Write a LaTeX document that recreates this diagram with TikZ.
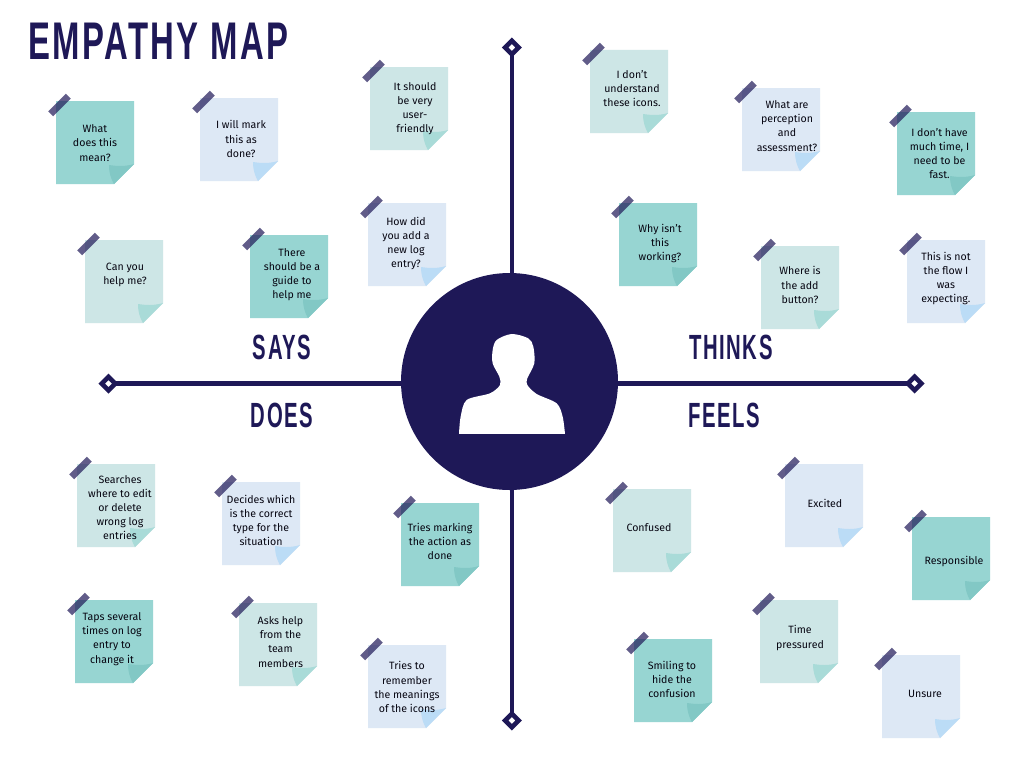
\documentclass[tikz,border=0pt]{standalone}
\usepackage{fontspec}
\setmainfont{Fira Sans}
\newfontfamily\headfont[FakeStretch=0.58,LetterSpace=4.5]{Liberation Sans Bold}
\newfontfamily\titlefont[FakeStretch=0.62,LetterSpace=4.7]{Liberation Sans Bold}
\usetikzlibrary{shapes.geometric}
\definecolor{navy}{HTML}{1E1857}
\definecolor{deepnote}{HTML}{97D5D2}
\definecolor{deepfold}{HTML}{82C8C5}
\definecolor{palenote}{HTML}{CDE6E6}
\definecolor{palefold}{HTML}{A9DBD8}
\definecolor{bluenote}{HTML}{DDE8F5}
\definecolor{bluefold}{HTML}{BBDCF6}
\tikzset{
  x=1pt,y=-1pt,
  notetext/.style={font=\fontsize{10.6}{14.1}\selectfont,text=black!80!navy,align=center,inner sep=0pt},
  tape/.style={fill=navy,fill opacity=0.7,draw=none,rectangle,minimum width=25pt,minimum height=7pt,inner sep=0pt,rotate=45},
  axisline/.style={draw=navy,line width=4.6pt,shorten >=-3pt,shorten <=-3pt},
  axisend/.style={diamond,draw=navy,fill=white,line width=4.6pt,minimum width=13.5pt,minimum height=13.5pt,inner sep=0pt,outer sep=0pt},
  heading/.style={text=navy,inner sep=0pt,font=\headfont\fontsize{35}{35}\selectfont},
}
\newcommand{\stickynote}[7]{%
  \fill[#4note] (#2,#3) -- ++(78,0) -- ++(0,63) -- ++(-20,20) -- ++(-58,0) -- cycle;
  \fill[#4fold] (#2+78,#3+63) .. controls (#2+68,#3+66) and (#2+60,#3+65) .. (#2+53,#3+64) .. controls (#2+53,#3+72) and (#2+55,#3+78) .. (#2+58,#3+83) -- cycle;
  \node[tape] (#1t) at (#2+3.5,#3+4) {};
  \node[notetext] (#1) at (#5,#6+0.5) {#7};
}
\begin{document}
\begin{tikzpicture}
\useasboundingbox (0,0) rectangle (1024,768);
\fill[white] (0,0) rectangle (1024,768);
\node[axisend] (dl) at (108.5,383.5) {};
\node[axisend] (dr) at (914.5,383.5) {};
\node[axisend] (dt) at (511.8,47.5) {};
\node[axisend] (db) at (511.8,720.5) {};
\draw[axisline] (dl) -- (dr);
\draw[axisline] (dt) -- (db);
\node[circle,fill=navy,minimum size=217pt,inner sep=0pt] (hub) at (509.5,381.5) {};
\begin{scope}[shift={(400,270)},x=0.3333pt,y=-0.3333pt]
\fill[white] (177,492) -- plot[smooth,tension=0.5] coordinates {(177,492) (182,440) (200,390) (270,370) (300,345) (298,320) (278,280) (278,240) (290,210) (335,192) (385,205) (400,230) (403,280) (382,325) (382,345) (410,372) (470,400) (488,440) (495,492)} -- cycle;
\end{scope}

\node[anchor=west,text=navy,inner sep=0pt,font=\titlefont\fontsize{53}{53}\selectfont] (title) at (28,41) {EMPATHY MAP};
\node[heading] (says) at (282,347.5) {SAYS};
\node[heading] (does) at (282,415.5) {DOES};
\node[heading] (thinks) at (731,347.5) {THINKS};
\node[heading] (feels) at (724,415.5) {FEELS};

\stickynote{n1}{56}{101}{deep}{95}{142.5}{What\\does this\\mean?}
\stickynote{n2}{200}{98}{blue}{241}{138.5}{I will mark\\this as\\done?}
\stickynote{n3}{370}{67}{pale}{415}{108}{It should\\be very\\user-\\friendly}
\stickynote{n4}{85}{240}{pale}{125}{274.5}{Can you\\help me?}
\stickynote{n5}{250}{235}{deep}{292}{274}{There\\should be a\\guide to\\help me}
\stickynote{n6}{368}{203}{blue}{406}{243}{How did\\you add a\\new log\\entry?}
\stickynote{n7}{590}{50}{pale}{632}{88}{I don't\\understand\\these icons.}
\stickynote{n8}{742}{88}{blue}{787}{125.5}{What are\\perception\\and\\assessment?}
\stickynote{n9}{897}{112}{deep}{939.5}{153}{I don't have\\much time, I\\need to be\\fast.}
\stickynote{n10}{619}{203}{deep}{660}{243}{Why isn't\\this\\working?}
\stickynote{n11}{761}{246}{pale}{800}{284.5}{Where is\\the add\\button?}
\stickynote{n12}{907}{240}{blue}{946}{278}{This is not\\the flow I\\was\\expecting.}
\stickynote{n13}{77}{464}{pale}{120}{507}{Searches\\where to edit\\or delete\\wrong log\\entries}
\stickynote{n14}{222}{482}{blue}{261}{520}{Decides which\\is the correct\\type for the\\situation}
\stickynote{n15}{401}{503}{deep}{440}{541}{Tries marking\\the action as\\done}
\stickynote{n16}{75}{600}{deep}{112}{638.5}{Taps several\\times on log\\entry to\\change it}
\stickynote{n17}{239}{603}{pale}{280.5}{641.5}{Asks help\\from the\\team\\members}
\stickynote{n18}{368}{645}{blue}{407}{686.5}{Tries to\\remember\\the meanings\\of the icons}
\stickynote{n19}{613}{489}{pale}{649}{527}{Confused}
\stickynote{n20}{785}{464}{blue}{825}{503}{Excited}
\stickynote{n21}{912}{517}{deep}{954}{561}{Responsible}
\stickynote{n22}{634}{639}{deep}{672}{679}{Smiling to\\hide the\\confusion}
\stickynote{n23}{760}{600}{pale}{800}{637.5}{Time\\pressured}
\stickynote{n24}{882}{655}{blue}{925}{693}{Unsure}
\end{tikzpicture}
\end{document}
